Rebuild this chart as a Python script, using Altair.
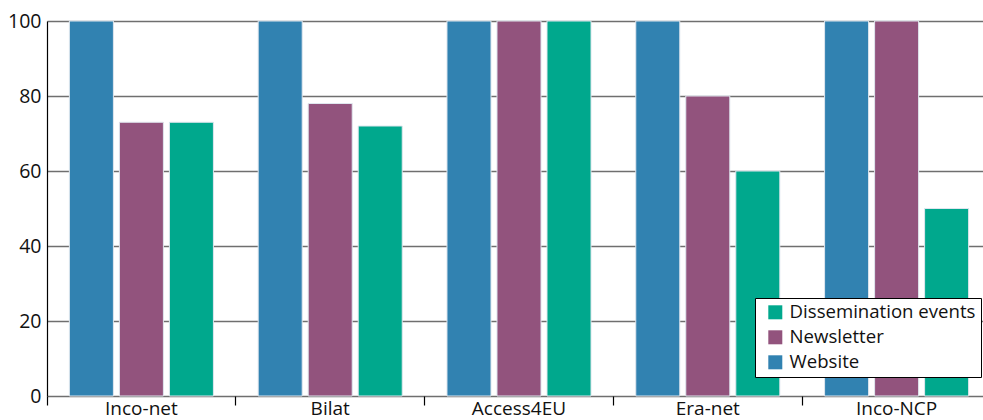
import altair as alt
import pandas as pd

categories = ["Inco-net", "Bilat", "Access4EU", "Era-net", "Inco-NCP"]
website = [100, 100, 100, 100, 100]
newsletter = [73, 78, 100, 80, 100]
dissemination = [73, 72, 100, 60, 50]

series_names = ["Website", "Newsletter", "Dissemination events"]
series_values = [website, newsletter, dissemination]

rows = []
for name, vals in zip(series_names, series_values):
    for c, v in zip(categories, vals):
        rows.append({"project": c, "channel": name, "value": v})
df = pd.DataFrame(rows)

FONT = "Open Sans"

xscale = alt.Scale(domain=categories, paddingInner=0, paddingOuter=0, range=[0, 944])

bars = alt.Chart(df).mark_bar(stroke="#dfe6ee", strokeWidth=1).encode(
    x=alt.X("project:N", scale=xscale, sort=categories,
            axis=alt.Axis(title=None, orient="bottom", domain=False, ticks=False,
                          labelAngle=0, labelFontSize=19, labelFont=FONT,
                          labelColor="#111", labelPadding=3, grid=False)),
    xOffset=alt.XOffset("channel:N", sort=series_names,
                        scale=alt.Scale(paddingInner=0.12, paddingOuter=0.4475)),
    y=alt.Y("value:Q", scale=alt.Scale(domain=[0, 100]),
            axis=alt.Axis(title=None, values=[0, 20, 40, 60, 80, 100],
                          grid=True, gridColor="#6f6f6f", gridWidth=1.5,
                          ticks=False, domain=True, domainColor="#000",
                          domainWidth=1.2, labelFontSize=19.5, labelFont=FONT,
                          labelColor="#111", labelPadding=6)),
    color=alt.Color("channel:N",
                    scale=alt.Scale(domain=["Dissemination events", "Newsletter", "Website"],
                                    range=["#00a88d", "#92537d", "#3182b1"]),
                    legend=alt.Legend(title=None, orient="none", legendX=708, legendY=277,
                                      strokeColor="#000", fillColor="#fff", padding=5,
                                      labelFontSize=18.6, labelFont=FONT, labelColor="#111",
                                      labelLimit=0, symbolOffset=6,
                                      symbolType="square", symbolSize=196,
                                      symbolStrokeWidth=0, rowPadding=6, labelOffset=5)),
)

ticks_layer = alt.Chart(df).mark_bar(opacity=0).encode(
    x=alt.X("project:N", scale=xscale, sort=categories,
            axis=alt.Axis(title=None, orient="bottom", domain=False, labels=False,
                          ticks=True, tickSize=9, tickColor="#000", tickWidth=1.2,
                          bandPosition=0, grid=False)),
    y=alt.Y("value:Q"),
)

chart = alt.layer(bars, ticks_layer).resolve_axis(x="independent").properties(
    width=936, height=375,
    autosize=alt.AutoSizeParams(type="none"),
    padding={"left": 47, "top": 21, "right": 0, "bottom": 24},
).configure_view(stroke=None)

chart.save("out.html", embed_options={"renderer": "svg", "actions": False})
